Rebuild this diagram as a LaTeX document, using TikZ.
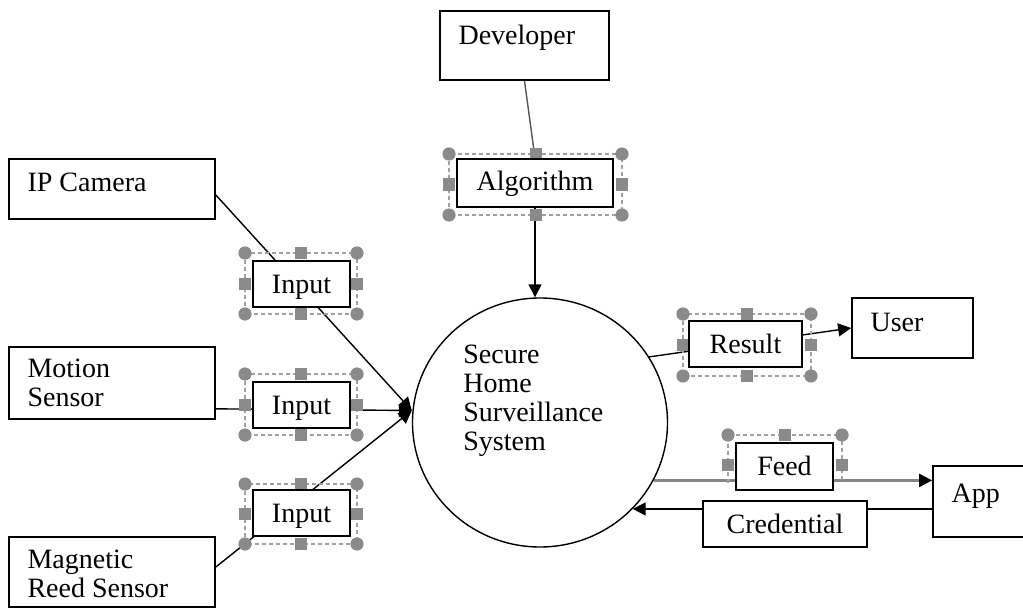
\documentclass[tikz,border=0pt]{standalone}
\usepackage{fontspec}
\setmainfont{Liberation Serif}
\usetikzlibrary{arrows.meta,calc,backgrounds,shapes.geometric}
\definecolor{hgray}{HTML}{8A8A8A}
\definecolor{fgray}{HTML}{A0A0A0}
\definecolor{lgray}{HTML}{858585}
\definecolor{dgray}{HTML}{555555}
\tikzset{
  box/.style={draw=black, line width=0.85pt, fill=white, rectangle, inner sep=0pt},
  lbl/.style={box, text height=16pt, text depth=7pt, inner ysep=0pt, inner xsep=0pt},
  txt/.style={anchor=base west, inner sep=0pt, align=left},
  conn/.style={line width=0.7pt, draw=black},
  arr/.style={conn, -{Triangle[length=6.5pt,width=6.5pt]}},
  feedline/.style={line width=1.1pt, draw=lgray, -{Triangle[length=6.5pt,width=6.5pt,color=black]}},
  frame/.style={draw=fgray, dash pattern=on 2pt off 1.5pt, line width=0.55pt},
}
\newcommand{\selframe}[4]{%
  \draw[frame] (#1,#2) rectangle (#3,#4);
  \fill[hgray] (#1,#2) circle (3.3pt) (#3,#2) circle (3.3pt) (#1,#4) circle (3.3pt) (#3,#4) circle (3.3pt);
  \fill[hgray] ({(#1+#3)/2-6},{#2-6}) rectangle ++(12,12);
  \fill[hgray] ({(#1+#3)/2-6},{#4-6}) rectangle ++(12,12);
  \fill[hgray] ({#1-6},{(#2+#4)/2-6}) rectangle ++(12,12);
  \fill[hgray] ({#3-6},{(#2+#4)/2-6}) rectangle ++(12,12);
}
\begin{document}
\begin{tikzpicture}[x=0.5pt, y=-0.5pt, font=\fontsize{14pt}{14.5pt}\selectfont]
\useasboundingbox (0,0) rectangle (1023,610);
\clip (0,0) rectangle (1023,610);

% plain boxes
\node[box, minimum width=84.5pt, minimum height=34.5pt] (dev) at (524.5,45.5) {};
\node[txt] at ($(dev.north west)+(19,34)$) {Developer};
\node[box, minimum width=103pt, minimum height=30pt] (cam) at (112,189) {};
\node[txt] at ($(cam.north west)+(19,33)$) {IP Camera};
\node[box, minimum width=103pt, minimum height=36pt] (mot) at (112,383) {};
\node[txt] at ($(mot.north west)+(19,60)$) {Motion\\Sensor};
\node[box, minimum width=103pt, minimum height=35pt] (mag) at (112,572) {};
\node[txt] at ($(mag.north west)+(19,61)$) {Magnetic\\Reed Sensor};
\node[box, minimum width=60.5pt, minimum height=30pt] (user) at (912.5,328) {};
\node[txt] at ($(user.north west)+(19,34)$) {User};
\node[box, minimum width=48.5pt, minimum height=35.5pt] (app) at (981.5,501.5) {};
\node[txt] at ($(app.north west)+(19,37)$) {App};

% central process
\node[draw=black, line width=0.7pt, ellipse, inner sep=0pt, minimum width=127.5pt, minimum height=124.5pt] (sys) at (540,422.5) {};
\node[txt] at ($(sys.center)+(-77,28)$) {Secure\\Home\\Surveillance\\System};

% labels on connectors
\node[lbl, minimum width=48.5pt] (in1) at (301.5,284) {Input};
\node[lbl, minimum width=48.5pt] (in2) at (301.5,405) {Input};
\node[lbl, minimum width=48.5pt] (in3) at (301.5,513) {Input};
\node[lbl, minimum width=78pt, text depth=8pt] (alg) at (535,183) {Algorithm};
\node[lbl, minimum width=56.5pt] (res) at (745.5,344) {Result};
\node[lbl, minimum width=48.5pt, text depth=7.5pt] (feed) at (784.5,466.5) {Feed};
\node[lbl, minimum width=82pt] (cred) at (785,524) {Credential};

\begin{scope}[on background layer]
  \coordinate (hub) at ($(sys.west)+(0,-12)$);
  \draw[conn, draw=dgray] (dev.south) -- (alg.north);
  \draw[arr] (alg.south) -- (alg.south |- sys.north);
  \draw[arr] ($(cam.east)+(0,6)$) -- (hub);
  \draw[arr] ($(mot.south east)+(0,-11)$) -- (hub);
  \draw[arr] ($(mag.east)+(0,-5)$) -- (hub);
  \draw[arr] (sys.31) -- (user.west);
  \draw[feedline] (sys.-27) -- (sys.-27 -| app.west);
  \draw[arr] (app.west |- sys.-43) -- (sys.-43);
  % selection frames
  \selframe{245}{253}{357}{314}
  \selframe{245}{374}{357}{435}
  \selframe{245}{484}{357}{544}
  \selframe{449}{154}{622}{215}
  \selframe{683}{314}{811}{376}
  % partial frame around Feed
  \draw[frame] (728,483) -- (728,435) -- (842,435) -- (842,483);
  \fill[hgray] (728,435) circle (3.3pt) (842,435) circle (3.3pt);
  \fill[hgray] (779,429) rectangle ++(12,12);
  \fill[hgray] (722,459) rectangle ++(12,12);
  \fill[hgray] (836,459) rectangle ++(12,12);
\end{scope}
\end{tikzpicture}
\end{document}
